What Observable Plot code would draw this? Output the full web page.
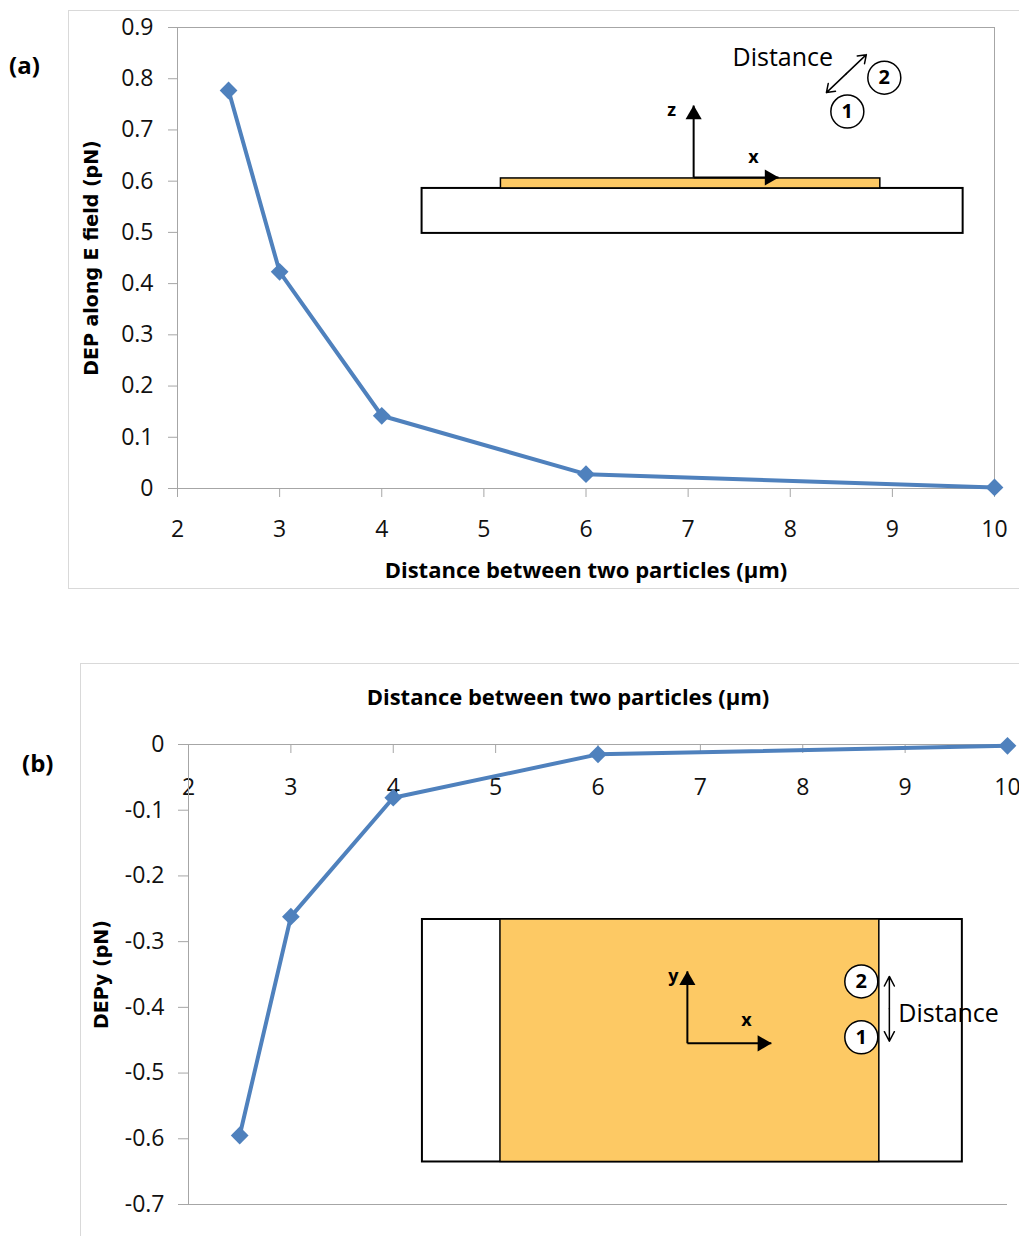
<!DOCTYPE html>
<html><head><meta charset="utf-8">
<script src="https://cdn.jsdelivr.net/npm/d3@7"></script>
<script src="https://cdn.jsdelivr.net/npm/@observablehq/plot@0.6"></script>
<style>
body{margin:0;background:#fff;}
#page{position:relative;width:1019px;height:1236px;overflow:hidden;font-family:"Open Sans",sans-serif;background:#fff;}
.box{position:absolute;border:1px solid #d9d9d9;pointer-events:none;z-index:2;}
.panel{position:absolute;font-weight:bold;font-size:24px;line-height:1;color:#000;z-index:3;}
.chart{position:absolute;left:0;}
</style></head><body>
<div id="page">
  <div class="chart" id="ca" style="top:0px"></div>
  <div class="chart" id="cb" style="top:620px"></div>
  <div class="box" style="left:68px;top:10px;width:1000px;height:577px"></div>
  <div class="box" style="left:80px;top:663px;width:1000px;height:700px"></div>
  <div class="panel" style="left:9px;top:53px">(a)</div>
  <div class="panel" style="left:22px;top:751px">(b)</div>
</div>
<script>
// ---- data ----
const distances = [2.5, 3, 4, 6, 10];
const depAlongE = [0.777, 0.423, 0.142, 0.028, 0.002];
const depY = [-0.595, -0.262, -0.081, -0.015, -0.002];
const xTicks = [2, 3, 4, 5, 6, 7, 8, 9, 10];
const yTicksA = [0, 0.1, 0.2, 0.3, 0.4, 0.5, 0.6, 0.7, 0.8, 0.9];
const yTicksB = [0, -0.1, -0.2, -0.3, -0.4, -0.5, -0.6, -0.7];
const xTitle = "Distance between two particles (\u03bcm)";
const yTitleA = "DEP along E field (pN)";
const yTitleB = "DEPy (pN)";
const distLabel = "Distance";

const dataA = distances.map((d, i) => ({x: d, y: depAlongE[i]}));
const dataB = distances.map((d, i) => ({x: d, y: depY[i]}));

// ---- styles ----
const blue = "#4f81bd";
const axisGray = "#a6a6a6";
const orange = "#fdc964";
const ink = "#111";
const fmt = d => d === 0 ? "0" : d.toFixed(1);

// ---- inset (a): side view of the electrode, in chart coordinates ----
const insA = {
  sub: {x1: 4.395, x2: 9.693, y1: 0.4980, y2: 0.5858},
  elec: {x1: 5.167, x2: 8.882, y1: 0.5858, y2: 0.6053},
  origin: {x: 7.054, y: 0.6072}, zTip: 0.7476, xTip: 7.885,
  zLab: {x: 6.839, y: 0.7378}, xLab: {x: 7.640, y: 0.6462},
  dist: {x: 7.435, y: 0.8411},
  arrow: {x1: 8.354, y1: 0.7729, x2: 8.745, y2: 0.8470},
  p2: {x: 8.921, y: 0.8021}, p1: {x: 8.559, y: 0.7359}
};
// ---- inset (b): top view of the electrode ----
const insB = {
  sub: {x1: 4.285, x2: 9.559, y1: -0.6353, y2: -0.2663},
  elec: {x1: 5.047, x2: 8.748, y1: -0.6353, y2: -0.2663},
  origin: {x: 6.873, y: -0.4547}, yTip: -0.3452, xTip: 7.693,
  yLab: {x: 6.736, y: -0.3529}, xLab: {x: 7.449, y: -0.4197},
  p2: {x: 8.572, y: -0.3605}, p1: {x: 8.572, y: -0.4455},
  arrowX: 8.846, arrowY1: -0.3529, arrowY2: -0.4516,
  dist: {x: 8.934, y: -0.4106}
};

function dataMarks(data) {
  return [
    Plot.line(data, {x: "x", y: "y", stroke: blue, strokeWidth: 4, strokeLinejoin: "round"}),
    Plot.dot(data, {x: "x", y: "y", symbol: "diamond2", r: 8, fill: blue, stroke: null})
  ];
}
function particle(p, label) {
  return [
    Plot.dot([p], {x: "x", y: "y", r: 16.5, fill: "white", stroke: "black", strokeWidth: 1.5}),
    Plot.text([p], {x: "x", y: "y", text: () => label, fontSize: 20, fontWeight: "bold", fill: "black", fontFamily: "Open Sans"})
  ];
}

const plotA = Plot.plot({
  width: 1019, height: 610,
  marginLeft: 177, marginRight: 25, marginTop: 27, marginBottom: 122,
  x: {domain: [2, 10]},
  y: {domain: [0, 0.9]},
  style: {background: "transparent", fontFamily: "Open Sans", color: ink, overflow: "visible"},
  marks: [
    Plot.ruleY([0.9], {stroke: axisGray}),
    Plot.ruleX([10], {stroke: axisGray}),
    Plot.axisY({ticks: yTicksA, tickSize: 9, tickPadding: 15, tickFormat: fmt, fontSize: 23, stroke: axisGray, fill: ink, label: null}),
    Plot.axisX({ticks: xTicks, tickSize: 9, tickPadding: 23, tickFormat: d => String(d), fontSize: 23, stroke: axisGray, fill: ink, label: null}),
    Plot.ruleY([0], {stroke: axisGray}),
    Plot.ruleX([2], {stroke: axisGray}),
    Plot.text([xTitle], {text: d => d, frameAnchor: "bottom", lineAnchor: "middle", dy: 82, fontSize: 22, fontWeight: "bold", fill: "black", fontFamily: "Open Sans"}),
    Plot.text([yTitleA], {text: d => d, frameAnchor: "left", textAnchor: "middle", lineAnchor: "middle", rotate: -90, dx: -86, fontSize: 19, fontWeight: "bold", fill: "black", fontFamily: "DejaVu Sans"}),
    // inset
    Plot.rect([insA.sub], {x1: "x1", x2: "x2", y1: "y1", y2: "y2", fill: "white", stroke: "black", strokeWidth: 2}),
    Plot.rect([insA.elec], {x1: "x1", x2: "x2", y1: "y1", y2: "y2", fill: orange, stroke: "black", strokeWidth: 1.5}),
    Plot.link([insA.origin], {x1: "x", y1: "y", x2: "x", y2: () => insA.zTip, stroke: "black", strokeWidth: 2}),
    Plot.link([insA.origin], {x1: "x", y1: "y", x2: () => insA.xTip, y2: "y", stroke: "black", strokeWidth: 2}),
    Plot.dot([insA.origin], {x: "x", y: () => insA.zTip, symbol: "triangle", r: 6, fill: "black", dy: 9}),
    Plot.dot([insA.origin], {x: () => insA.xTip, y: "y", symbol: "triangle", r: 6, fill: "black", rotate: 90, dx: -9}),
    Plot.text([insA.zLab], {x: "x", y: "y", text: () => "z", fontSize: 18, fontWeight: "bold", fill: "black"}),
    Plot.text([insA.xLab], {x: "x", y: "y", text: () => "x", fontSize: 18, fontWeight: "bold", fill: "black"}),
    Plot.text([insA.dist], {x: "x", y: "y", text: () => distLabel, textAnchor: "start", fontSize: 25, fill: "black"}),
    Plot.arrow([insA.arrow], {x1: d => (d.x1 + d.x2) / 2, y1: d => (d.y1 + d.y2) / 2, x2: "x2", y2: "y2", stroke: "black", strokeWidth: 1.5, headLength: 11, headAngle: 70}),
    Plot.arrow([insA.arrow], {x1: d => (d.x1 + d.x2) / 2, y1: d => (d.y1 + d.y2) / 2, x2: "x1", y2: "y1", stroke: "black", strokeWidth: 1.5, headLength: 11, headAngle: 70}),
    ...particle(insA.p2, "2"),
    ...particle(insA.p1, "1"),
    ...dataMarks(dataA)
  ]
});
document.getElementById("ca").append(plotA);

const plotB = Plot.plot({
  width: 1019, height: 616,
  marginLeft: 188, marginRight: 12, marginTop: 124, marginBottom: 32,
  x: {domain: [2, 10]},
  y: {domain: [-0.7, 0]},
  style: {background: "transparent", fontFamily: "Open Sans", color: ink, overflow: "visible"},
  marks: [
    Plot.ruleY([-0.7], {stroke: axisGray, x1: 2, x2: 10, insetLeft: -10}),
    Plot.axisY({ticks: yTicksB, tickSize: 10, tickPadding: 14, tickFormat: fmt, fontSize: 23, stroke: axisGray, fill: ink, label: null}),
    Plot.axisX({anchor: "bottom", frameAnchor: "top", ticks: xTicks, tickSize: 9, tickPadding: 25, tickFormat: d => String(d), fontSize: 23, stroke: axisGray, fill: ink, label: null}),
    Plot.ruleY([0], {stroke: axisGray}),
    Plot.ruleX([2], {stroke: axisGray}),
    Plot.text([xTitle], {text: d => d, frameAnchor: "top", lineAnchor: "middle", dy: -47, dx: -30, fontSize: 22, fontWeight: "bold", fill: "black", fontFamily: "Open Sans"}),
    Plot.text([yTitleB], {text: d => d, frameAnchor: "left", textAnchor: "middle", lineAnchor: "middle", rotate: -90, dx: -87, fontSize: 19, fontWeight: "bold", fill: "black", fontFamily: "DejaVu Sans"}),
    // inset
    Plot.rect([insB.sub], {x1: "x1", x2: "x2", y1: "y1", y2: "y2", fill: "white", stroke: "black", strokeWidth: 2}),
    Plot.rect([insB.elec], {x1: "x1", x2: "x2", y1: "y1", y2: "y2", fill: orange, stroke: "black", strokeWidth: 1.5}),
    Plot.link([insB.origin], {x1: "x", y1: "y", x2: "x", y2: () => insB.yTip, stroke: "black", strokeWidth: 2}),
    Plot.link([insB.origin], {x1: "x", y1: "y", x2: () => insB.xTip, y2: "y", stroke: "black", strokeWidth: 2}),
    Plot.dot([insB.origin], {x: "x", y: () => insB.yTip, symbol: "triangle", r: 6, fill: "black", dy: 9}),
    Plot.dot([insB.origin], {x: () => insB.xTip, y: "y", symbol: "triangle", r: 6, fill: "black", rotate: 90, dx: -9}),
    Plot.text([insB.yLab], {x: "x", y: "y", text: () => "y", fontSize: 18, fontWeight: "bold", fill: "black"}),
    Plot.text([insB.xLab], {x: "x", y: "y", text: () => "x", fontSize: 18, fontWeight: "bold", fill: "black"}),
    ...particle(insB.p2, "2"),
    ...particle(insB.p1, "1"),
    Plot.arrow([insB], {x1: "arrowX", x2: "arrowX", y1: d => (d.arrowY1 + d.arrowY2) / 2, y2: "arrowY1", stroke: "black", strokeWidth: 1.5, headLength: 11, headAngle: 55}),
    Plot.arrow([insB], {x1: "arrowX", x2: "arrowX", y1: d => (d.arrowY1 + d.arrowY2) / 2, y2: "arrowY2", stroke: "black", strokeWidth: 1.5, headLength: 11, headAngle: 55}),
    Plot.text([insB.dist], {x: "x", y: "y", text: () => distLabel, textAnchor: "start", fontSize: 25, fill: "black"}),
    ...dataMarks(dataB)
  ]
});
document.getElementById("cb").append(plotB);
</script>
</body></html>
